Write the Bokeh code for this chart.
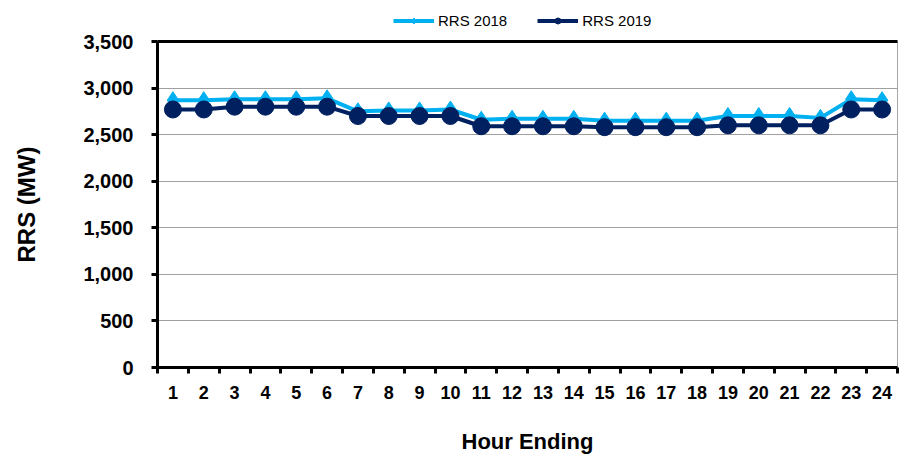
from bokeh.plotting import figure
from bokeh.layouts import column
from bokeh.models import (FixedTicker, NumeralTickFormatter, LinearAxis, Legend,
                          LegendItem, Range1d, ColumnDataSource)
from bokeh.embed import file_html
from bokeh.resources import INLINE

hours = list(range(1, 25))
rrs_2018 = [2870, 2870, 2880, 2880, 2880, 2890, 2750, 2760, 2760, 2770, 2660, 2670,
            2670, 2670, 2650, 2650, 2650, 2650, 2700, 2700, 2700, 2680, 2880, 2870]
rrs_2019 = [2770, 2770, 2800, 2800, 2800, 2800, 2700, 2700, 2700, 2700, 2590, 2590,
            2590, 2590, 2580, 2580, 2580, 2580, 2600, 2600, 2600, 2600, 2770, 2770]
y_ticks = [0, 500, 1000, 1500, 2000, 2500, 3000, 3500]

C18 = "#00B0F0"
C19 = "#002060"
FONT = "Liberation Sans"

src = ColumnDataSource(dict(h=hours, a=rrs_2018, b=rrs_2019))

LEG_H = 31
p = figure(width=901, height=456 - LEG_H, output_backend="svg", toolbar_location=None,
           x_range=Range1d(0.5, 24.5), y_range=Range1d(0, 3500),
           min_border_left=157, min_border_right=4, min_border_top=41 - LEG_H,
           min_border_bottom=88)
p.outline_line_color = "#a6a6a6"
p.outline_line_width = 1
p.background_fill_color = "white"
p.border_fill_color = "white"

p.line("h", "a", source=src, line_color=C18, line_width=4)
p.line("h", "b", source=src, line_color=C19, line_width=4)
p.scatter("h", "a", source=src, marker="diamond", size=17, color=C18)
p.scatter("h", "b", source=src, marker="circle", size=17, color=C19)

xa = p.xaxis[0]
xa.ticker = FixedTicker(ticks=hours, minor_ticks=[h - 0.5 for h in hours] + [24.5])
xa.major_tick_out = 0
xa.major_tick_in = 0
xa.minor_tick_out = 6
xa.minor_tick_in = 0
xa.minor_tick_line_width = 3
xa.minor_tick_line_color = "black"
xa.axis_line_width = 3
xa.axis_line_color = "black"
xa.major_label_text_font = FONT
xa.major_label_text_font_style = "bold"
xa.major_label_text_font_size = "18px"
xa.major_label_text_color = "black"
xa.major_label_standoff = 12
xa.axis_label = "Hour Ending"
xa.axis_label_text_font = FONT
xa.axis_label_text_font_style = "bold"
xa.axis_label_text_font_size = "22px"
xa.axis_label_text_color = "black"
xa.axis_label_standoff = 27

ya = p.yaxis[0]
ya.ticker = FixedTicker(ticks=y_ticks)
ya.formatter = NumeralTickFormatter(format="0,0")
ya.major_tick_out = 6
ya.major_tick_in = 0
ya.major_tick_line_width = 3
ya.minor_tick_line_color = None
ya.axis_line_width = 3
ya.axis_line_color = "black"
ya.major_label_text_font = FONT
ya.major_label_text_font_style = "bold"
ya.major_label_text_font_size = "20px"
ya.major_label_text_color = "black"
ya.major_label_standoff = 18
ya.axis_label = "RRS (MW)"
ya.axis_label_text_font = FONT
ya.axis_label_text_font_style = "bold"
ya.axis_label_text_font_size = "24px"
ya.axis_label_text_color = "black"
ya.axis_label_standoff = 40

top = LinearAxis(ticker=FixedTicker(ticks=[]), axis_line_width=3, axis_line_color="black",
                 major_tick_line_color=None, minor_tick_line_color=None,
                 major_label_text_font_size="0px")
p.add_layout(top, "above")

p.xgrid.grid_line_color = None
p.ygrid.grid_line_color = "#404040"
p.ygrid.grid_line_dash = "1 1"
p.ygrid.grid_line_width = 1

# legend strip (separate figure above the chart)
lg = figure(width=901, height=LEG_H, output_backend="svg", toolbar_location=None,
            x_range=Range1d(0, 1), y_range=Range1d(0, 1),
            min_border=0, min_border_left=0, min_border_right=0,
            min_border_top=0, min_border_bottom=0)
lg.axis.visible = False
lg.grid.visible = False
lg.outline_line_color = None
lg.background_fill_color = "white"
lg.border_fill_color = "white"
ll18 = lg.line("h", "a", source=src, line_color=C18, line_width=4)
ls18 = lg.scatter("h", "a", source=src, marker="diamond", size=9, color=C18)
ll19 = lg.line("h", "b", source=src, line_color=C19, line_width=4)
ls19 = lg.scatter("h", "b", source=src, marker="circle", size=8, color=C19)

legend = Legend(items=[LegendItem(label="RRS 2018", renderers=[ll18, ls18]),
                       LegendItem(label="RRS 2019", renderers=[ll19, ls19])],
                orientation="horizontal", location=(236, 2),
                glyph_width=41, glyph_height=15, label_standoff=4, spacing=30,
                padding=0, margin=0, border_line_color=None,
                background_fill_alpha=0,
                label_text_font=FONT, label_text_font_size="15px",
                label_text_color="black", label_height=15)
lg.add_layout(legend, "center")

open("out.html", "w").write(file_html(column(lg, p, spacing=0), INLINE))
